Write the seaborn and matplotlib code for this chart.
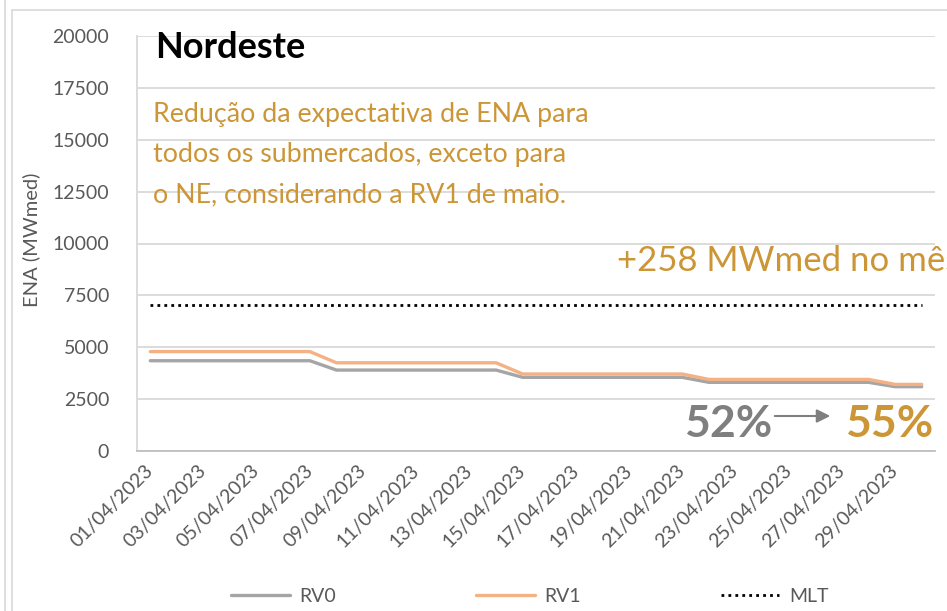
import pandas as pd
import matplotlib
matplotlib.use("Agg")
import matplotlib.pyplot as plt
import seaborn as sns
from matplotlib.lines import Line2D

# daily ENA values (MWmed)
dates = ['01/04/2023', '02/04/2023', '03/04/2023', '04/04/2023', '05/04/2023',
         '06/04/2023', '07/04/2023', '08/04/2023', '09/04/2023', '10/04/2023',
         '11/04/2023', '12/04/2023', '13/04/2023', '14/04/2023', '15/04/2023',
         '16/04/2023', '17/04/2023', '18/04/2023', '19/04/2023', '20/04/2023',
         '21/04/2023', '22/04/2023', '23/04/2023', '24/04/2023', '25/04/2023',
         '26/04/2023', '27/04/2023', '28/04/2023', '29/04/2023', '30/04/2023']
rv0 = [4350, 4350, 4350, 4350, 4350, 4350, 4350,
       3900, 3900, 3900, 3900, 3900, 3900, 3900,
       3550, 3550, 3550, 3550, 3550, 3550, 3550,
       3310, 3310, 3310, 3310, 3310, 3310, 3310,
       3100, 3100]
rv1 = [4790, 4790, 4790, 4790, 4790, 4790, 4790,
       4250, 4250, 4250, 4250, 4250, 4250, 4250,
       3710, 3710, 3710, 3710, 3710, 3710, 3710,
       3450, 3450, 3450, 3450, 3450, 3450, 3450,
       3210, 3210]
mlt = 7040

df = pd.DataFrame({'dia': range(len(dates)), 'data': dates, 'RV0': rv0, 'RV1': rv1})
df['MLT'] = mlt

gray_txt = '#595959'
gold = '#CC9636'

sns.set_style("white")
plt.rcParams['font.family'] = ['Lato', 'DejaVu Sans']

W, H = 947, 611
fig = plt.figure(figsize=(W / 100, H / 100), dpi=100)
ax = fig.add_axes([137 / W, 1 - 451 / H, (935 - 137) / W, (451 - 36) / H])

sns.lineplot(data=df, x='dia', y='RV0', ax=ax, color='#A5A5A5', linewidth=2.4, label='RV0')
sns.lineplot(data=df, x='dia', y='RV1', ax=ax, color='#F4B183', linewidth=2.4, label='RV1')
sns.lineplot(data=df, x='dia', y='MLT', ax=ax, color='black', linewidth=2, label='MLT',
             linestyle=(0, (1, 1.5)))

ax.set_xlim(-0.5, len(dates) - 0.5)
ax.set_ylim(0, 20000)
ax.set_yticks(range(0, 20001, 2500))
ax.set_xticks(df['dia'][::2])
ax.set_xticklabels(df['data'][::2], rotation=45, ha='right', va='center',
                   rotation_mode='anchor')
ax.tick_params(axis='both', length=0, labelsize=14, colors=gray_txt)
ax.tick_params(axis='x', pad=12)
ax.tick_params(axis='y', pad=20)
ax.set_xlabel('')
ax.set_ylabel('ENA (MWmed)', fontsize=14.5, color=gray_txt)
ax.yaxis.set_label_coords(-0.121, 0.51)

ax.yaxis.grid(True, color='#D9D9D9', linewidth=1.3)
ax.xaxis.grid(False)
for s in ['top', 'right']:
    ax.spines[s].set_visible(False)
ax.spines['left'].set_color('#D9D9D9')
ax.spines['bottom'].set_color('#BFBFBF')
ax.spines['left'].set_linewidth(1.3)
ax.spines['bottom'].set_linewidth(1.3)

handles, labels = ax.get_legend_handles_labels()
ax.get_legend().remove()
leg = fig.legend(handles, labels, loc='center', bbox_to_anchor=(530 / W, 1 - 596 / H),
                 ncol=3, frameon=False, columnspacing=7.2, handlelength=3.0,
                 handletextpad=0.5, fontsize=14)
for t in leg.get_texts():
    t.set_color(gray_txt)

def fx(x):
    return x / W

def fy(y):
    return 1 - y / H

fig.text(fx(155), fy(58), 'Nordeste', fontsize=26, fontweight='bold', color='black')
fig.text(fx(153), fy(122), 'Redução da expectativa de ENA para', fontsize=19.3, color=gold)
fig.text(fx(153), fy(162), 'todos os submercados, exceto para', fontsize=19.3, color=gold)
fig.text(fx(153), fy(202), 'o NE, considerando a RV1 de maio.', fontsize=19.3, color=gold)
fig.text(fx(617), fy(271), '+258 MWmed no mês', fontsize=25, color=gold)
fig.text(fx(684), fy(437), '52%', fontsize=32, fontweight='bold', color='#7F7F7F')
fig.text(fx(845), fy(437), '55%', fontsize=32, fontweight='bold', color=gold)
fig.add_artist(matplotlib.patches.FancyArrowPatch(
    (fx(772), fy(416)), (fx(833), fy(416)), transform=fig.transFigure,
    arrowstyle='-|>,head_length=8,head_width=4', color='#7F7F7F', lw=1.5))

# chart frame lines
fig.add_artist(Line2D([fx(5), fx(5)], [0, 1], color='#D9D9D9', lw=1.2))
fig.add_artist(Line2D([fx(12), fx(12)], [0, fy(10)], color='#D9D9D9', lw=1.2))
fig.add_artist(Line2D([fx(12), 1], [fy(10), fy(10)], color='#D9D9D9', lw=1.2))

fig.savefig('out.png', dpi=100)
